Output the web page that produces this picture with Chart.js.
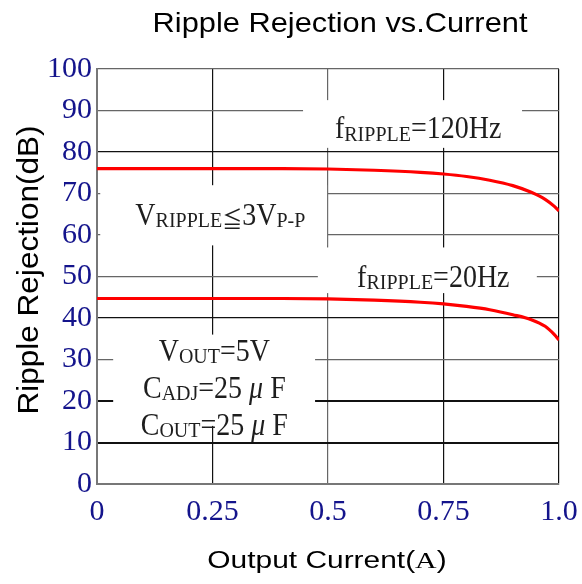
<!DOCTYPE html>
<html>
<head>
<meta charset="utf-8">
<script src="https://cdn.jsdelivr.net/npm/chart.js@4.4.0/dist/chart.umd.min.js"></script>
<style>
  html, body { margin: 0; padding: 0; background: #fff; }
  canvas { display: block; }
</style>
</head>
<body>
<canvas id="rrChart" width="582" height="584"></canvas>
<script>
// values
const currentA = [0, 0.1, 0.2, 0.3, 0.4, 0.5, 0.6, 0.7, 0.75, 0.8, 0.85, 0.9, 0.94, 0.97, 0.99, 1.0];
const rej120Hz = [76, 76, 76, 76, 76, 75.9, 75.6, 75.1, 74.7, 74.1, 73.2, 71.9, 70.3, 68.6, 66.9, 65.8];
const rej20Hz = [44.7, 44.7, 44.7, 44.7, 44.7, 44.6, 44.3, 43.8, 43.4, 42.8, 42.0, 40.8, 39.6, 38.0, 36.0, 34.7];

const xTickLabels = ['0', '0.25', '0.5', '0.75', '1.0'];
const yTickLabels = ['0', '10', '20', '30', '40', '50', '60', '70', '80', '90', '100'];

const chartTitle = 'Ripple Rejection vs.Current';
const xTitle = ['Output Current(', 'A', ')'];
const yTitle = 'Ripple Rejection(dB)';

// [text, 'n' normal | 's' subscript | 'i' italic]
const note120 = [['f', 'n'], ['RIPPLE', 's'], ['=120Hz', 'n']];
const note20 = [['f', 'n'], ['RIPPLE', 's'], ['=20Hz', 'n']];
const noteVr = [['V', 'n'], ['RIPPLE', 's'], ['\u2266', 's'], ['3V', 'n'], ['P-P', 's']];
const noteVout = [['V', 'n'], ['OUT', 's'], ['=5V', 'n']];
const noteCadj = [['C', 'n'], ['ADJ', 's'], ['=25 ', 'n'], ['\u03bc', 'i'], [' F', 'n']];
const noteCout = [['C', 'n'], ['OUT', 's'], ['=25 ', 'n'], ['\u03bc', 'i'], [' F', 'n']];

const NAVY = '#14148c';
const SERIF = '"Liberation Serif", "Noto Sans CJK JP", serif';
const SANS = '"Liberation Sans", Arial, sans-serif';

function toPoints(xs, ys) {
    return xs.map((x, i) => ({ x: x, y: ys[i] }));
}

function segFont(kind) {
    if (kind === 's') return '20px ' + SERIF;
    if (kind === 'i') return 'italic 28px ' + SERIF;
    return '28px ' + SERIF;
}

function richWidth(ctx, segs) {
    let w = 0;
    segs.forEach(s => {
        ctx.font = segFont(s[1]);
        w += ctx.measureText(s[0]).width;
    });
    return w;
}

function drawRich(ctx, segs, x, y, centered) {
    ctx.save();
    ctx.translate(x, y);
    ctx.scale(1, 1.1);
    let cx = centered ? -richWidth(ctx, segs) / 2 : 0;
    ctx.textAlign = 'left';
    ctx.textBaseline = 'alphabetic';
    ctx.fillStyle = '#1e1e1e';
    segs.forEach(s => {
        ctx.font = segFont(s[1]);
        ctx.fillText(s[0], cx, s[1] === 's' ? 2 : 0);
        cx += ctx.measureText(s[0]).width;
    });
    ctx.restore();
}

// white patches behind the notes, like the original sheet
const maskPlugin = {
    id: 'masks',
    beforeDatasetsDraw(chart) {
        const { ctx, scales: { x, y } } = chart;
        const boxes = [
            [0.007, 0.498, 72, 57.5],
            [0.446, 0.92, 92.5, 81],
            [0.478, 0.952, 57, 46],
            [0.035, 0.472, 36, 14]
        ];
        ctx.save();
        ctx.fillStyle = '#fff';
        boxes.forEach(b => {
            const l = x.getPixelForValue(b[0]), r = x.getPixelForValue(b[1]);
            const t = y.getPixelForValue(b[2]), btm = y.getPixelForValue(b[3]);
            ctx.fillRect(l, t, r - l, btm - t);
        });
        ctx.restore();
    }
};

const textPlugin = {
    id: 'texts',
    afterDraw(chart) {
        const { ctx, scales: { x, y } } = chart;
        ctx.save();

        // title
        ctx.save();
        ctx.translate(340, 32);
        ctx.scale(1.1, 1);
        ctx.font = '28px ' + SANS;
        ctx.fillStyle = '#000';
        ctx.textAlign = 'center';
        ctx.textBaseline = 'alphabetic';
        ctx.fillText(chartTitle, 0, 0);
        ctx.restore();

        // x axis title
        ctx.save();
        ctx.translate(327, 568);
        ctx.scale(1.3, 1);
        const fonts = ['23px ' + SANS, '23px ' + SERIF, '23px ' + SANS];
        let total = 0;
        xTitle.forEach((t, i) => { ctx.font = fonts[i]; total += ctx.measureText(t).width; });
        let px = -total / 2;
        ctx.fillStyle = '#000';
        ctx.textAlign = 'left';
        xTitle.forEach((t, i) => {
            ctx.font = fonts[i];
            ctx.fillText(t, px, 0);
            px += ctx.measureText(t).width;
        });
        ctx.restore();

        // y axis title
        ctx.save();
        ctx.translate(38, 270);
        ctx.rotate(-Math.PI / 2);
        ctx.scale(1.05, 1);
        ctx.font = '30px ' + SANS;
        ctx.fillStyle = '#000';
        ctx.textAlign = 'center';
        ctx.textBaseline = 'alphabetic';
        ctx.fillText(yTitle, 0, 0);
        ctx.restore();

        // notes
        drawRich(ctx, note120, x.getPixelForValue(0.515), y.getPixelForValue(83.3), false);
        drawRich(ctx, noteVr, x.getPixelForValue(0.083), y.getPixelForValue(62.4), false);
        drawRich(ctx, note20, x.getPixelForValue(0.563), y.getPixelForValue(47.5), false);
        const cx = x.getPixelForValue(0.254);
        drawRich(ctx, noteVout, cx, y.getPixelForValue(29.7), true);
        drawRich(ctx, noteCadj, cx, y.getPixelForValue(20.8), true);
        drawRich(ctx, noteCout, cx, y.getPixelForValue(11.9), true);

        ctx.restore();
    }
};

const ctx = document.getElementById('rrChart').getContext('2d');

new Chart(ctx, {
    type: 'line',
    data: {
        datasets: [
            {
                label: 'f=120Hz',
                data: toPoints(currentA, rej120Hz),
                borderColor: '#ff0000',
                borderWidth: 3.2,
                pointRadius: 0,
                cubicInterpolationMode: 'monotone',
                fill: false
            },
            {
                label: 'f=20Hz',
                data: toPoints(currentA, rej20Hz),
                borderColor: '#ff0000',
                borderWidth: 3.2,
                pointRadius: 0,
                cubicInterpolationMode: 'monotone',
                fill: false
            }
        ]
    },
    options: {
        responsive: false,
        animation: false,
        layout: {
            padding: { top: 69, right: 23, bottom: 0, left: 0 }
        },
        plugins: {
            legend: { display: false },
            tooltip: { enabled: false },
            title: { display: false }
        },
        scales: {
            x: {
                type: 'linear',
                min: 0,
                max: 1,
                afterFit: s => {
                    s.height = 100;
                    s.paddingLeft = 0;
                    s.paddingRight = 0;
                },
                afterBuildTicks: s => {
                    s.ticks = xTickLabels.map(v => ({ value: parseFloat(v) }));
                },
                ticks: {
                    autoSkip: false,
                    maxRotation: 0,
                    padding: 10,
                    color: NAVY,
                    font: { family: SERIF, size: 30 },
                    callback: (v, i) => xTickLabels[i]
                },
                grid: {
                    drawTicks: false,
                    color: c => (c.tick && c.tick.value === 0.5) ? '#666' : '#111',
                    lineWidth: 1.2
                },
                border: { color: '#777', width: 2 }
            },
            y: {
                min: 0,
                max: 100,
                afterFit: s => {
                    s.width = 97;
                    s.paddingTop = 0;
                    s.paddingBottom = 0;
                },
                afterBuildTicks: s => {
                    s.ticks = yTickLabels.map(v => ({ value: parseFloat(v) }));
                },
                ticks: {
                    autoSkip: false,
                    padding: 5,
                    color: NAVY,
                    font: { family: SERIF, size: 30 },
                    callback: (v, i) => yTickLabels[i]
                },
                grid: {
                    drawTicks: false,
                    color: c => {
                        const v = c.tick ? c.tick.value : -1;
                        return [10, 20, 40, 80].includes(v) ? '#111' : '#666';
                    },
                    lineWidth: c => {
                        const v = c.tick ? c.tick.value : -1;
                        return (v === 10 || v === 20) ? 2 : 1.3;
                    }
                },
                border: { color: '#777', width: 2 }
            }
        }
    },
    plugins: [maskPlugin, textPlugin]
});
</script>
</body>
</html>
